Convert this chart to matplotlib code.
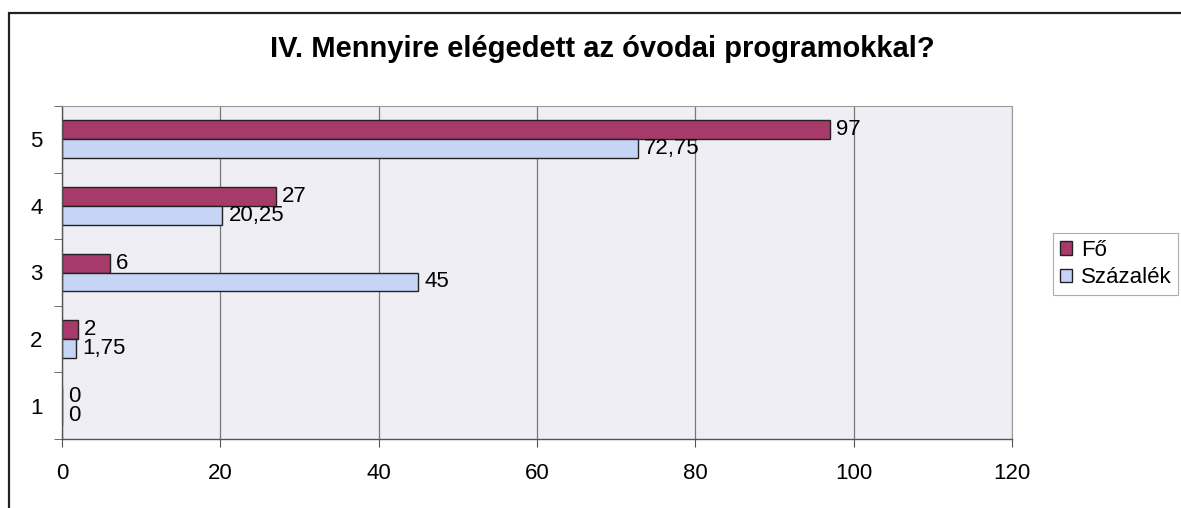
import numpy as np
import matplotlib
matplotlib.use('Agg')
import matplotlib.pyplot as plt
from matplotlib.patches import Rectangle

plt.rcParams['font.family'] = ['Liberation Sans', 'DejaVu Sans']

# chart data
categories = ['1', '2', '3', '4', '5']
fo = [0, 2, 6, 27, 97]
szazalek = [0, 1.75, 45, 20.25, 72.75]
fo_labels = ['0', '2', '6', '27', '97']
szazalek_labels = ['0', '1,75', '45', '20,25', '72,75']
series_names = ['Fő', 'Százalék']
title = 'IV. Mennyire elégedett az óvodai programokkal?'

fo_color = '#a63a6b'
sz_color = '#c6d4f6'

fig = plt.figure(figsize=(11.81, 5.08), dpi=100)
fig.patch.set_facecolor('white')

# outer chart frame (runs off the right and bottom of the picture)
fig.patches.append(Rectangle((9 / 1181, -0.1), 1.2, 1 - 13 / 508 + 0.1,
                             transform=fig.transFigure, fill=False,
                             edgecolor='#222222', linewidth=1.6))

ax = fig.add_axes([62 / 1181, 1 - 439 / 508, (1012 - 62) / 1181, (439 - 106) / 508])
ax.set_facecolor('#eeeef4')

idx = np.arange(len(categories))
h = 0.285
b1 = ax.barh(idx + h / 2, fo, height=h, color=fo_color, edgecolor='#222222',
             linewidth=1.0, label=series_names[0])
b2 = ax.barh(idx - h / 2, szazalek, height=h, color=sz_color, edgecolor='#222222',
             linewidth=1.0, label=series_names[1])

for i in idx:
    ax.annotate(fo_labels[i], (fo[i], i + h / 2), xytext=(4.5, 0),
                textcoords='offset points', va='center', ha='left', fontsize=16)
    ax.annotate(szazalek_labels[i], (szazalek[i], i - h / 2), xytext=(4.5, 0),
                textcoords='offset points', va='center', ha='left', fontsize=16)

ax.set_xlim(0, 120)
ax.set_ylim(-0.5, 4.5)
ax.set_xticks(np.arange(0, 121, 20))
ax.set_yticks(idx)
ax.set_yticklabels(categories)
ax.set_yticks(np.arange(-0.5, 4.6, 1), minor=True)
ax.tick_params(axis='y', which='major', length=0, pad=14, labelsize=16)
ax.tick_params(axis='y', which='minor', length=6, color='#555555')
ax.tick_params(axis='x', length=6, color='#555555', pad=11, labelsize=16)
ax.grid(axis='x', color='#777777', linewidth=0.9)
ax.set_axisbelow(True)
for side in ['top', 'right']:
    ax.spines[side].set_color('#999999')
    ax.spines[side].set_linewidth(0.8)
for side in ['left', 'bottom']:
    ax.spines[side].set_color('#555555')
    ax.spines[side].set_linewidth(1.0)

fig.text(602 / 1181, 1 - 49 / 508, title, ha='center', va='center',
         fontsize=21, fontweight='bold')

handles = [b1, b2]
leg = fig.legend(handles, series_names, loc='upper left',
                 bbox_to_anchor=(1053 / 1181, 1 - 233 / 508),
                 frameon=True, fancybox=False, fontsize=16,
                 handlelength=0.55, handleheight=0.55, handletextpad=0.4,
                 borderpad=0.3, labelspacing=0.3, borderaxespad=0)
leg.get_frame().set_edgecolor('#999999')
leg.get_frame().set_linewidth(0.8)

fig.savefig('out.png', dpi=100)
